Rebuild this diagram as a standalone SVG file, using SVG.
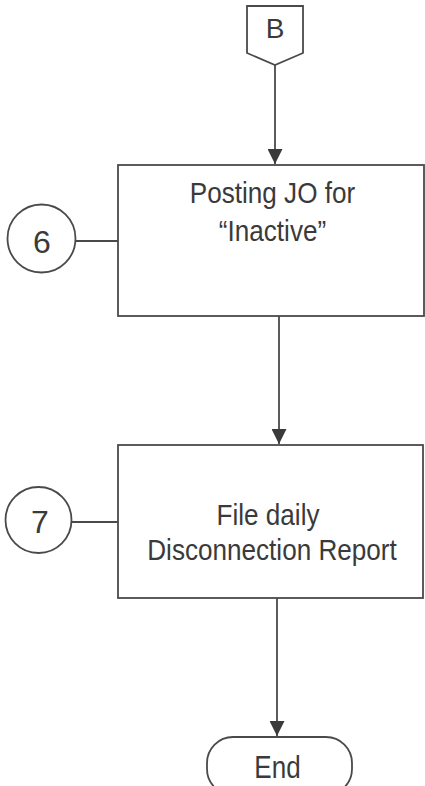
<svg xmlns="http://www.w3.org/2000/svg" width="425" height="786" viewBox="0 0 425 786">
  <style>
    .shape { fill: #ffffff; stroke: #4a4a4a; stroke-width: 1.8; }
    .conn { fill: none; stroke: #4a4a4a; stroke-width: 1.8; }
    .lbl { font-family: "Liberation Sans", Arial, sans-serif; font-size: 30px; fill: #3a3a3a; text-anchor: middle; }
    .num { font-family: "Liberation Sans", Arial, sans-serif; font-size: 32px; fill: #3a3a3a; text-anchor: middle; }
    .big { font-size: 28px; }
    .end { font-size: 31px; }
  </style>
  <defs>
    <marker id="arrow" markerUnits="userSpaceOnUse" markerWidth="15" markerHeight="15" refX="15" refY="7.5" orient="auto">
      <path d="M0,0 L15,7.5 L0,15 Z" fill="#3a3a3a"/>
    </marker>
  </defs>
  <rect width="425" height="786" fill="#ffffff"/>

  <g id="connectors">
    <line class="conn" x1="275" y1="65" x2="275" y2="164" marker-end="url(#arrow)"/>
    <line class="conn" x1="279" y1="316" x2="279" y2="444" marker-end="url(#arrow)"/>
    <line class="conn" x1="277" y1="598" x2="277" y2="736" marker-end="url(#arrow)"/>
    <line class="conn" x1="76" y1="241" x2="118" y2="241"/>
    <line class="conn" x1="72" y1="522" x2="118" y2="522"/>
  </g>

  <g id="connector-B">
    <path class="shape" d="M247,6 L303,6 L303,53 L275,65 L247,53 Z"/>
    <text class="lbl big" x="275" y="38">B</text>
  </g>

  <g id="step6">
    <rect class="shape" x="118" y="165" width="306" height="151"/>
    <text class="lbl" transform="translate(272.5,203) scale(0.87,1)">Posting JO for</text>
    <text class="lbl" transform="translate(272.5,241) scale(0.87,1)">“Inactive”</text>
  </g>

  <g id="circle6">
    <circle class="shape" cx="41.5" cy="238.5" r="34"/>
    <text class="num" x="42" y="253">6</text>
  </g>

  <g id="step7">
    <rect class="shape" x="118" y="445" width="305" height="153"/>
    <text class="lbl" transform="translate(268,525) scale(0.87,1)">File daily</text>
    <text class="lbl" transform="translate(272,560) scale(0.87,1)">Disconnection Report</text>
  </g>

  <g id="circle7">
    <circle class="shape" cx="38.5" cy="520" r="33"/>
    <text class="num" x="40" y="533">7</text>
  </g>

  <g id="end">
    <rect class="shape" x="207" y="737" width="145" height="58" rx="26" ry="26"/>
    <text class="lbl end" transform="translate(277.5,778) scale(0.84,1)">End</text>
  </g>
</svg>
